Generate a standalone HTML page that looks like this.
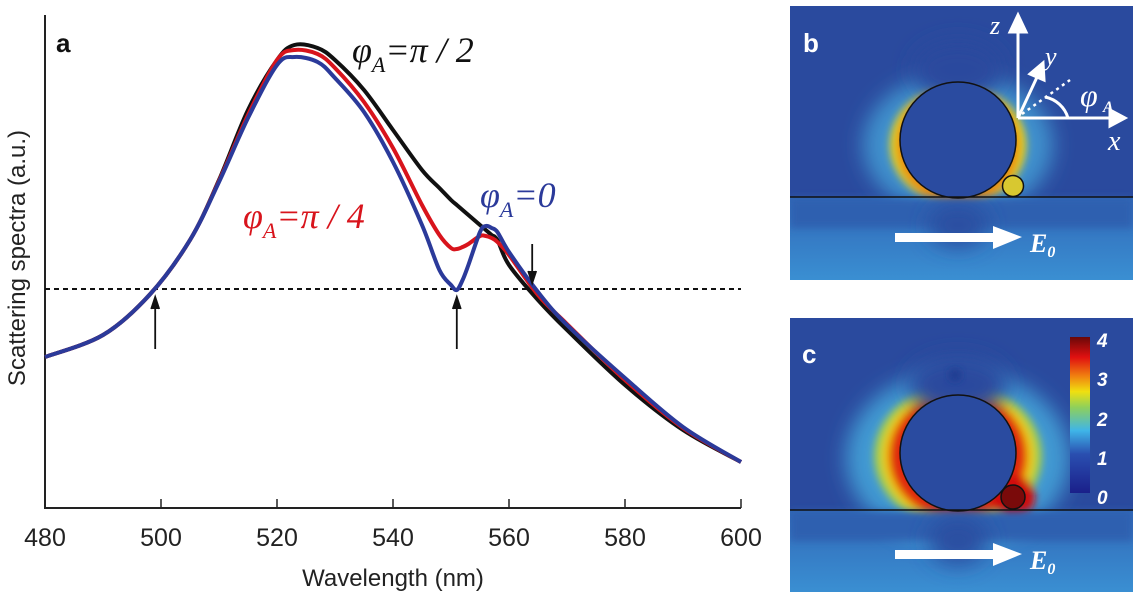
<!DOCTYPE html>
<html><head><meta charset="utf-8"><style>
body{margin:0;background:#fff;width:1137px;height:602px;overflow:hidden}
svg{display:block}
</style></head><body>
<svg id="chart" width="1137" height="602" viewBox="0 0 1137 602" xmlns="http://www.w3.org/2000/svg" font-family="Liberation Sans, sans-serif">
<defs>
<filter id="blur10" x="-50%" y="-50%" width="200%" height="200%"><feGaussianBlur stdDeviation="10"/></filter>
<filter id="blur4" x="-50%" y="-50%" width="200%" height="200%"><feGaussianBlur stdDeviation="4"/></filter>
<filter id="blur2" x="-50%" y="-50%" width="200%" height="200%"><feGaussianBlur stdDeviation="2"/></filter>
<clipPath id="clipB"><rect x="790" y="6" width="343" height="274"/></clipPath>
<clipPath id="clipC"><rect x="790" y="318" width="343" height="274"/></clipPath>
<linearGradient id="cbar" x1="0" y1="1" x2="0" y2="0">
<stop offset="0" stop-color="#1a1f8a"/><stop offset="0.25" stop-color="#2a4fb0"/><stop offset="0.4" stop-color="#3fb5e8"/><stop offset="0.55" stop-color="#8fd05a"/><stop offset="0.65" stop-color="#f0e010"/><stop offset="0.75" stop-color="#f08010"/><stop offset="0.87" stop-color="#e01010"/><stop offset="1" stop-color="#6a0808"/>
</linearGradient>
<linearGradient id="sub" x1="0" y1="0" x2="0" y2="1"><stop offset="0" stop-color="#3168b8"/><stop offset="1" stop-color="#3a8fd2"/></linearGradient>
</defs>
<g id="plot"></g>

<!-- panel b -->
<g clip-path="url(#clipB)">
<rect x="790" y="6" width="343" height="274" fill="#2a4a9e"/>
<rect x="790" y="197" width="343" height="83" fill="url(#sub)"/>
<g filter="url(#blur10)">
<ellipse cx="958" cy="145" rx="95" ry="72" fill="#45a8dc" opacity="0.75"/>
</g>
<g filter="url(#blur4)">
<ellipse cx="958" cy="145" rx="68" ry="60" fill="#f0d818"/>
<ellipse cx="958" cy="145" rx="62" ry="60" fill="#e05a10" opacity="0.6"/>
</g>
<ellipse cx="958" cy="70" rx="45" ry="30" fill="#2a4a9e" filter="url(#blur10)"/>
<rect x="790" y="198" width="343" height="30" fill="#2f60b0" filter="url(#blur4)"/>
<ellipse cx="958" cy="225" rx="30" ry="22" fill="#2a4fa2" filter="url(#blur10)"/>
<circle cx="958" cy="140" r="58" fill="#2a4ba0" stroke="#111" stroke-width="1.5"/>
<circle cx="1013" cy="186" r="10.5" fill="#d8c830" stroke="#111" stroke-width="1.5"/>
<line x1="790" y1="197" x2="1133" y2="197" stroke="#111" stroke-width="1.5"/>
<text x="803" y="52" fill="#fff" font-size="26" font-weight="bold">b</text>
<g stroke="#fff" stroke-width="3" fill="#fff">
<line x1="1018" y1="118" x2="1018" y2="28"/><polygon points="1010,32 1026,32 1018,15"/>
<line x1="1018" y1="118" x2="1112" y2="118"/><polygon points="1110,110 1110,126 1125,118"/>
<line x1="1018" y1="118" x2="1038" y2="75"/><polygon points="1030,74 1044,80 1043,63"/>
</g>
<line x1="1022" y1="114" x2="1070" y2="80" stroke="#fff" stroke-width="2.5" stroke-dasharray="3 4"/>
<path d="M1045 97 A30 30 0 0 1 1068 118" fill="none" stroke="#fff" stroke-width="3"/>
<g fill="#fff" font-family="Liberation Serif, serif" font-style="italic">
<text x="990" y="34" font-size="26">z</text><text x="1045" y="65" font-size="26">y</text>
<text x="1108" y="150" font-size="28">x</text><text x="1080" y="106" font-size="32">φ</text><text x="1103" y="112" font-size="16" font-weight="bold">A</text>
<text x="1030" y="252" font-size="26" font-weight="bold">E<tspan font-size="16" dy="5">0</tspan></text>
</g>
<rect x="895" y="233" width="100" height="9" fill="#fff"/><polygon points="993,226 993,249 1022,237" fill="#fff"/>
</g>

<!-- panel c -->
<g clip-path="url(#clipC)">
<rect x="790" y="318" width="343" height="274" fill="#2a4a9e"/>
<rect x="790" y="510" width="343" height="82" fill="url(#sub)"/>
<g filter="url(#blur10)">
<ellipse cx="958" cy="458" rx="112" ry="88" fill="#45a8dc" opacity="0.85"/>
</g>
<g filter="url(#blur4)">
<ellipse cx="958" cy="456" rx="84" ry="72" fill="#a8d048"/>
<ellipse cx="958" cy="456" rx="76" ry="68" fill="#f0c810"/>
<ellipse cx="958" cy="456" rx="69" ry="64" fill="#e02a10"/>
<circle cx="1013" cy="497" r="22" fill="#d01010"/>
</g>
<ellipse cx="958" cy="385" rx="50" ry="30" fill="#2a4a9e" filter="url(#blur10)"/>
<circle cx="955" cy="375" r="6" fill="#1e3a90" filter="url(#blur4)"/>
<rect x="790" y="511" width="343" height="30" fill="#2f60b0" filter="url(#blur4)"/>
<ellipse cx="958" cy="540" rx="30" ry="25" fill="#2a4fa2" filter="url(#blur10)"/>
<circle cx="958" cy="453" r="58" fill="#2a4ba0" stroke="#111" stroke-width="1.5"/>
<circle cx="1013" cy="497" r="12" fill="#7a0a0a" stroke="#111" stroke-width="1.5"/>
<line x1="790" y1="510" x2="1133" y2="510" stroke="#111" stroke-width="1.5"/>
<text x="802" y="363" fill="#fff" font-size="26" font-weight="bold">c</text>
<rect x="1070" y="337" width="20" height="156" fill="url(#cbar)"/>
<g fill="#fff" font-size="19" font-weight="bold" font-style="italic">
<text x="1097" y="347">4</text><text x="1097" y="386">3</text><text x="1097" y="426">2</text><text x="1097" y="465">1</text><text x="1097" y="504">0</text>
</g>
<rect x="895" y="550" width="100" height="9" fill="#fff"/><polygon points="993,543 993,566 1022,554" fill="#fff"/>
<text x="1030" y="569" fill="#fff" font-size="26" font-weight="bold" font-style="italic" font-family="Liberation Serif, serif">E<tspan font-size="16" dy="5">0</tspan></text>
</g>
</svg>
<script>
const wavelengths = [480,490,498,505,510,515,520,523,527,530,535,540,545,548,550,551,552,553,555,556,557,558,560,565,570,580,590,600];
const blackVals = [1.53,1.75,2.15,2.70,3.30,4.00,4.50,4.65,4.62,4.50,4.20,3.80,3.40,3.22,3.10,3.05,3.00,2.95,2.85,2.80,2.75,2.70,2.45,2.10,1.80,1.25,0.80,0.48];
const redVals   = [1.53,1.75,2.15,2.70,3.29,3.95,4.50,4.60,4.56,4.42,4.08,3.62,3.05,2.75,2.62,2.61,2.63,2.66,2.74,2.74,2.72,2.68,2.55,2.15,1.86,1.30,0.82,0.48];
const blueVals  = [1.53,1.75,2.15,2.70,3.28,3.92,4.45,4.53,4.48,4.32,3.98,3.48,2.85,2.40,2.25,2.20,2.30,2.45,2.78,2.84,2.82,2.78,2.58,2.18,1.85,1.32,0.83,0.48];
const xTicks = [480,500,520,540,560,580,600];
const refLevel = 2.21;
const arrowsUp = [499,551];
const arrowsDown = [564];

const NS='http://www.w3.org/2000/svg';
const g=document.getElementById('plot');
const X=w=>45+(w-480)*5.8;
const Y=v=>510-v*100;
function mk(t,a){const e=document.createElementNS(NS,t);for(const k in a)e.setAttribute(k,a[k]);g.appendChild(e);return e;}
function smooth(vals){
  const p=wavelengths.map((w,i)=>[X(w),Y(vals[i])]);
  let d='M'+p[0][0]+' '+p[0][1];
  for(let i=0;i<p.length-1;i++){
    const p0=p[Math.max(0,i-1)],p1=p[i],p2=p[i+1],p3=p[Math.min(p.length-1,i+2)];
    const c1=[p1[0]+(p2[0]-p0[0])/6,p1[1]+(p2[1]-p0[1])/6],c2=[p2[0]-(p3[0]-p1[0])/6,p2[1]-(p3[1]-p1[1])/6];
    d+=` C${c1[0]} ${c1[1]} ${c2[0]} ${c2[1]} ${p2[0]} ${p2[1]}`;
  }
  return d;
}
let e;
e=mk('line',{x1:45,y1:15,x2:45,y2:509,stroke:'#222','stroke-width':2});


e=mk('line',{x1:44,y1:508,x2:741,y2:508,stroke:'#222','stroke-width':2});


xTicks.forEach(t=>{
  e=mk('line',{x1:X(t),y1:508,x2:X(t),y2:499,stroke:'#222','stroke-width':1.5});
  
  
  e=mk('text',{x:X(t),y:546,'text-anchor':'middle','font-size':25,fill:'#222'});
  e.textContent=t;
  
  
});
e=mk('text',{x:393,y:586,'text-anchor':'middle','font-size':24,fill:'#222'});
e.textContent='Wavelength (nm)';


e=mk('text',{x:0,y:0,'text-anchor':'middle','font-size':24,fill:'#222',transform:'translate(25,258) rotate(-90)'});
e.textContent='Scattering spectra (a.u.)';


e=mk('text',{x:56,y:52,'font-size':26,'font-weight':'bold',fill:'#111'});
e.textContent='a';


e=mk('line',{x1:45,y1:Y(refLevel),x2:741,y2:Y(refLevel),stroke:'#111','stroke-width':2,'stroke-dasharray':'5 4'});


[['black',blackVals,'#111','curve-phi-pi-2'],['red',redVals,'#d8141c','curve-phi-pi-4'],['blue',blueVals,'#2b3a9a','curve-phi-0']].forEach(s=>{
  e=mk('path',{d:smooth(s[1]),fill:'none',stroke:s[2],'stroke-width':4,'stroke-linejoin':'round'});
  
  
});
arrowsUp.forEach(w=>{
  const x=X(w),y=Y(refLevel);
  e=mk('path',{d:`M${x} ${y+60}V${y+10}M${x-4} ${y+20}L${x} ${y+8}L${x+4} ${y+20}`,stroke:'#111','stroke-width':1.8,fill:'#111'});
  
  
});
arrowsDown.forEach(w=>{
  const x=X(w),y=Y(refLevel);
  e=mk('path',{d:`M${x} ${y-45}V${y-8}M${x-4} ${y-18}L${x} ${y-6}L${x+4} ${y-18}`,stroke:'#111','stroke-width':1.8,fill:'#111'});
  
  
});
function lab(x,y,col,txt,nm){
  e=mk('text',{x:x,y:y,'font-size':36,fill:col,'font-style':'italic','font-family':'Liberation Serif, serif'});
  e.innerHTML='φ<tspan font-size="22" dy="10">A</tspan><tspan dy="-10">='+txt+'</tspan>';
  
  
}
lab(352,62,'#111','π / 2','label-phi-pi-2');
lab(243,228,'#d8141c','π / 4','label-phi-pi-4');
lab(480,207,'#2b3a9a','0','label-phi-0');
</script>
</body></html>
